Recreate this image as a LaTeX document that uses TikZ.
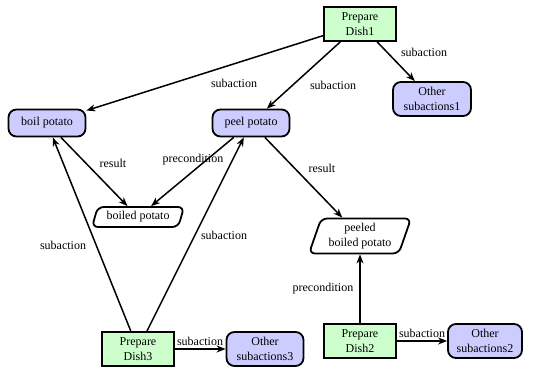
\documentclass[tikz,border=0pt]{standalone}
\usepackage{fontspec}
\setmainfont{Liberation Serif}
\usetikzlibrary{shapes.geometric,arrows.meta}
\definecolor{dishgreen}{RGB}{204,255,204}
\definecolor{actblue}{RGB}{204,204,255}
\begin{document}
\begin{tikzpicture}[x=1pt,y=-1pt,
  font=\fontsize{12}{14.5}\selectfont,
  dish/.style={draw, line width=1.9pt, fill=dishgreen, align=center,
    minimum width=72pt, minimum height=34pt, inner sep=1pt},
  act/.style={draw, line width=1.8pt, fill=actblue, rounded corners=8pt,
    align=center, inner sep=1pt},
  obj/.style={draw, line width=1.8pt, trapezium, trapezium left angle=66,
    trapezium right angle=114, trapezium stretches body, rounded corners=6pt,
    align=center, inner sep=1pt},
  arr/.style={line width=1.5pt, -{Stealth[length=9pt,width=7pt,inset=2.8pt]}},
  lbl/.style={inner sep=0pt}]
\useasboundingbox (0,0) rectangle (542,371);

% dishes
\node[dish] (d1) at (360,24) {Prepare\\Dish1};
\node[dish] (d3) at (138,349) {Prepare\\Dish3};
\node[dish] (d2) at (360,341) {Prepare\\Dish2};

% actions
\node[act, minimum width=78pt, minimum height=34pt] (o1) at (432,99) {Other\\subactions1};
\node[act, minimum width=77pt, minimum height=27pt] (boil) at (47,123) {boil potato};
\node[act, minimum width=77pt, minimum height=27pt] (peel) at (251,123) {peel potato};
\node[act, minimum width=77pt, minimum height=34pt] (o3) at (265,349) {Other\\subactions3};
\node[act, minimum width=74pt, minimum height=34pt] (o2) at (485,341) {Other\\subactions2};

% objects
\node[obj, minimum width=92pt, minimum height=20pt] (boiled) at (138,217) {boiled potato};
\node[obj, minimum width=102pt, minimum height=35pt] (peeled) at (360,236) {peeled\\boiled potato};

% connectors
\draw[arr] (d1) -- (boil) node[lbl] (l1) at (234,83) {subaction};
\draw[arr] (d1) -- (peel) node[lbl] (l2) at (333,85) {subaction};
\draw[arr] (d1) -- (o1) node[lbl] (l3) at (424,52) {subaction};
\draw[arr] (boil) -- (boiled) node[lbl] (l4) at (113,163) {result};
\draw[arr] (peel) -- (boiled) node[lbl] (l5) at (193,160) {precondition};
\draw[arr] (peel) -- (peeled) node[lbl] (l6) at (322,168) {result};
\draw[arr] (d3) -- (boil) node[lbl] (l7) at (63,245) {subaction};
\draw[arr] (d3) -- (peel) node[lbl] (l8) at (224,235) {subaction};
\draw[arr] (d3) -- (o3) node[lbl] (l9) at (200,341) {subaction};
\draw[arr] (d2) -- (peeled) node[lbl] (l10) at (323,289) {precondition};
\draw[arr] (d2) -- (o2) node[lbl] (l11) at (422,333) {subaction};
\end{tikzpicture}
\end{document}
